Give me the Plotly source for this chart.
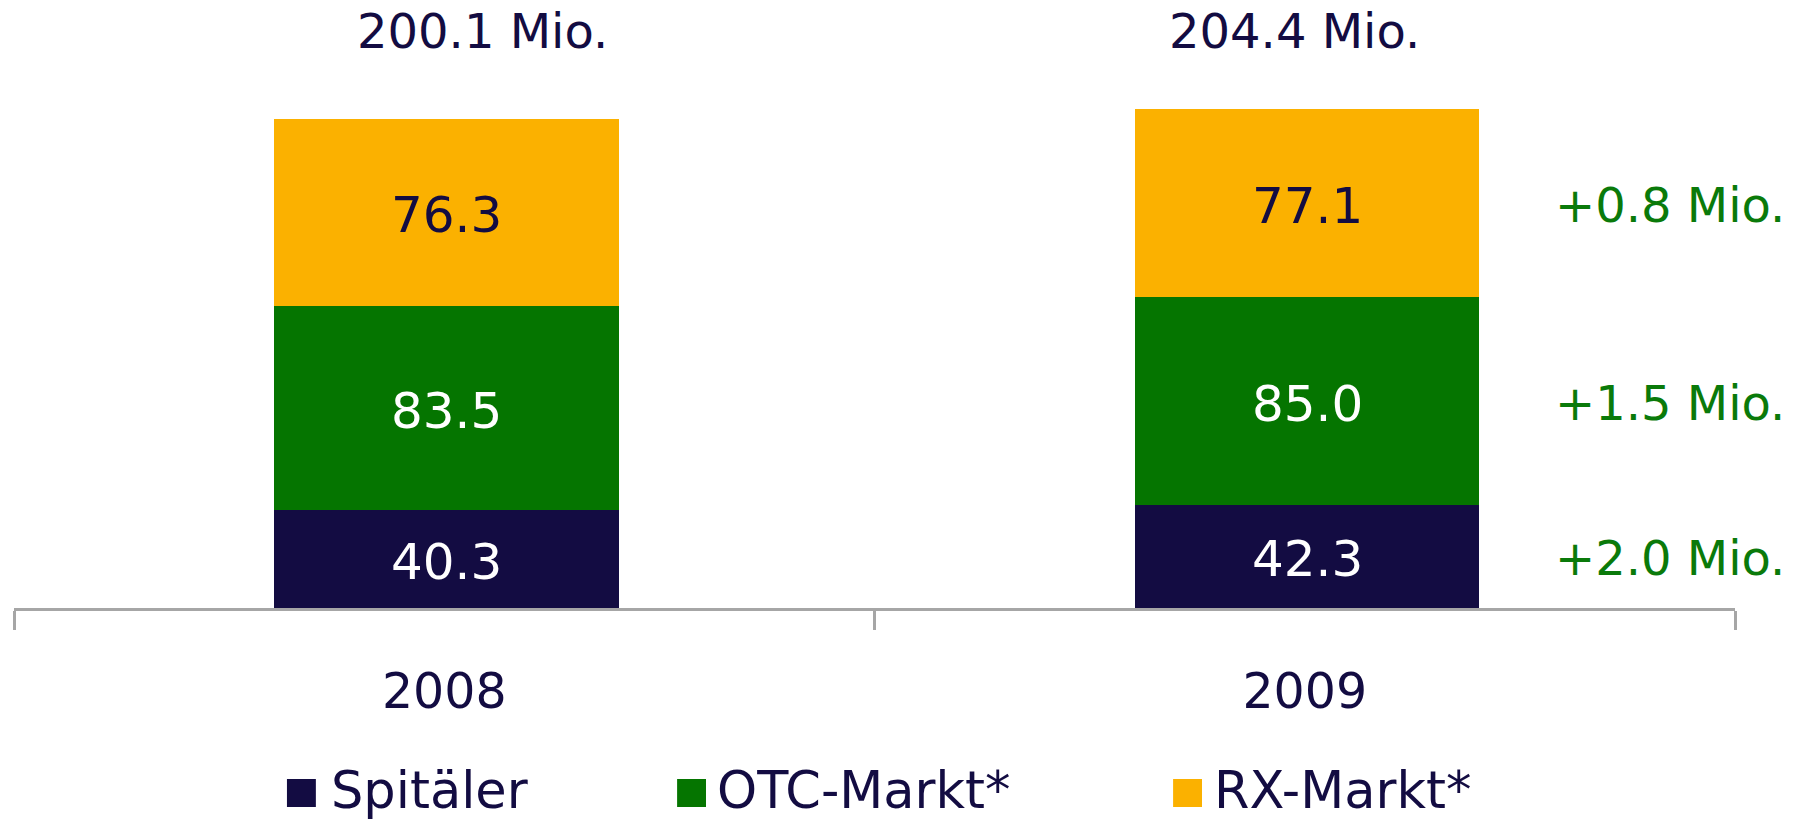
import plotly.graph_objects as go

# ---- data ----
years = ["2008", "2009"]
series_names = ["Spitäler", "OTC-Markt*", "RX-Markt*"]
spitaeler = [40.3, 42.3]
otc_markt = [83.5, 85.0]
rx_markt = [76.3, 77.1]
series_values = [spitaeler, otc_markt, rx_markt]

# ---- styles ----
bar_colors = ["#130C42", "#057500", "#FBB100"]
label_colors = ["#FFFFFF", "#FFFFFF", "#130C42"]
navy = "#130C42"
green = "#0A7A0A"
axis_gray = "#A6A6A6"
font_family = "DejaVu Sans, Verdana, sans-serif"
FS = 48

fig = go.Figure()
for name, vals, col in zip(series_names, series_values, bar_colors):
    fig.add_trace(go.Bar(
        x=years, y=vals, name=name,
        marker=dict(color=col, line=dict(width=0)),
        width=0.4, offset=-0.1973,
        textposition="none",
        showlegend=False, cliponaxis=False,
    ))

annotations = []
# value labels centred in each segment
cum = [0.0] * len(years)
for vals, lcol in zip(series_values, label_colors):
    for i, v in enumerate(vals):
        annotations.append(dict(
            x=i + 0.0027, y=cum[i] + v / 2, xref="x", yref="y", yshift=-3,
            text=f"{v:.1f}", showarrow=False,
            xanchor="center", yanchor="middle",
            font=dict(size=50, color=lcol, family=font_family),
        ))
        cum[i] += v

# totals above bars
totals = [sum(v[i] for v in series_values) for i in range(len(years))]
total_offsets = [0.045, -0.012]
for i, tot in enumerate(totals):
    annotations.append(dict(
        x=i + total_offsets[i], y=0.949, xref="x", yref="paper",
        text=f"{tot:.1f} Mio.", showarrow=False,
        xanchor="center", yanchor="middle",
        font=dict(size=FS, color=navy, family=font_family),
    ))

# deltas beside 2009 bar
c = 0.0
for vals in series_values:
    delta = vals[1] - vals[0]
    center = c + vals[1] / 2
    c += vals[1]
    annotations.append(dict(
        x=1.289, y=center, xref="x", yref="y", yshift=-2,
        text=f"+{delta:.1f} Mio.", showarrow=False,
        xanchor="left", yanchor="middle",
        font=dict(size=FS, color=green, family=font_family),
    ))

# custom legend
legend_sq_x = [0.1586, 0.3853, 0.6735]
legend_tx_x = [0.1836, 0.4080, 0.6968]
shapes = []
for name, col, sx, tx in zip(series_names, bar_colors, legend_sq_x, legend_tx_x):
    shapes.append(dict(
        type="rect", xref="paper", yref="paper",
        x0=sx, x1=sx + 0.0168, y0=-0.2812, y1=-0.3273,
        fillcolor=col, line=dict(width=0),
    ))
    annotations.append(dict(
        x=tx, y=-0.3000, xref="paper", yref="paper",
        text=name, showarrow=False, borderpad=0,
        xanchor="left", yanchor="middle",
        font=dict(size=51, color=navy, family=font_family),
    ))

fig.update_layout(
    barmode="stack",
    width=1798, height=819,
    margin=dict(l=14, r=63, t=0, b=211, pad=0),
    paper_bgcolor="white", plot_bgcolor="white",
    font=dict(family=font_family, color=navy, size=FS),
    annotations=annotations,
    shapes=shapes,
    showlegend=False,
    xaxis=dict(
        type="category", range=[-0.5, 1.5],
        showline=True, linecolor=axis_gray, linewidth=3,
        ticks="outside", tickson="boundaries", ticklen=19,
        tickwidth=3, tickcolor=axis_gray,
        tickfont=dict(size=49, color=navy, family=font_family),
        ticklabelstandoff=38,
        showgrid=False, zeroline=False,
    ),
    yaxis=dict(
        visible=False, range=[0, 248.9],
        showgrid=False, zeroline=False,
    ),
)

fig.write_html("out.html", config={"displayModeBar": False})
with open("out.html", "r", encoding="utf-8") as f:
    html = f.read()
html = html.replace("<body>", '<body style="margin:0;padding:0;">', 1)
with open("out.html", "w", encoding="utf-8") as f:
    f.write(html)
